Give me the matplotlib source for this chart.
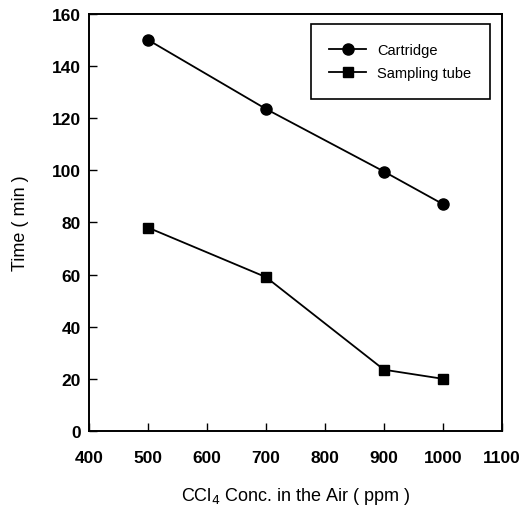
import numpy as np
import matplotlib.pyplot as plt

plt.rcParams['font.family'] = ['Liberation Sans', 'DejaVu Sans']

# data
conc = [500, 700, 900, 1000]
cartridge = [150, 123.5, 99.5, 87]
tube = [78, 59, 23.5, 20]

fig = plt.figure(figsize=(5.28, 5.10), dpi=100)
ax = fig.add_axes([0.1686, 0.153, 0.782, 0.818])

ax.plot(conc, cartridge, color='black', lw=1.3, marker='o', ms=8, label='Cartridge')
ax.plot(conc, tube, color='black', lw=1.3, marker='s', ms=7, label='Sampling tube')

ax.set_xlim(400, 1100)
ax.set_ylim(0, 160)
ax.set_xticks(np.arange(400, 1101, 100))
ax.set_yticks(np.arange(0, 161, 20))
ax.tick_params(direction='in', length=6, width=1.0, labelsize=12.5)
ax.tick_params(axis='x', pad=14)
ax.tick_params(axis='y', pad=6)
for lab in ax.get_xticklabels() + ax.get_yticklabels():
    lab.set_fontweight('bold')
for s in ax.spines.values():
    s.set_linewidth(1.4)

ax.set_xlabel('CCl$_4$ Conc. in the Air ( ppm )', fontsize=13, labelpad=14)
ax.set_ylabel('Time ( min )', fontsize=13, labelpad=16)

leg = ax.legend(loc='upper right', bbox_to_anchor=(0.971, 0.976), borderaxespad=0,
                fontsize=10.5, fancybox=False, edgecolor='black', framealpha=1,
                borderpad=1.3, handlelength=2.5, handletextpad=0.75, labelspacing=0.65)
leg.get_frame().set_linewidth(1.2)

fig.savefig('out.png', dpi=100)
